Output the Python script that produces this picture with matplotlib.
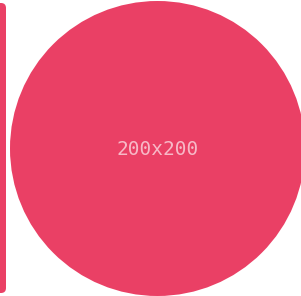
import matplotlib
matplotlib.use("Agg")
import matplotlib.pyplot as plt
from matplotlib.patches import Circle, FancyBboxPatch

# data
label = "200x200"
circle_center = (157.5, 148.5)
circle_radius = 147.5
side_item = (-6, 3, 12, 290)  # x, y, w, h of previous carousel item

fig = plt.figure(figsize=(3.01, 2.96), dpi=100)
ax = fig.add_axes([0, 0, 1, 1])
ax.set_xlim(0, 301)
ax.set_ylim(296, 0)
ax.axis("off")

color = "#EA4065"
x, y, w, h = side_item
ax.add_patch(FancyBboxPatch((x + 5, y + 5), w - 10, h - 10,
                            boxstyle="round,pad=5", fc=color, ec="none"))
ax.add_patch(Circle(circle_center, circle_radius, fc=color, ec="none"))
ax.text(circle_center[0], circle_center[1] + 1, label, ha="center", va="center",
        family="DejaVu Sans Mono", fontsize=14, color="#F7B9C7")

fig.savefig("out.png", dpi=100)
